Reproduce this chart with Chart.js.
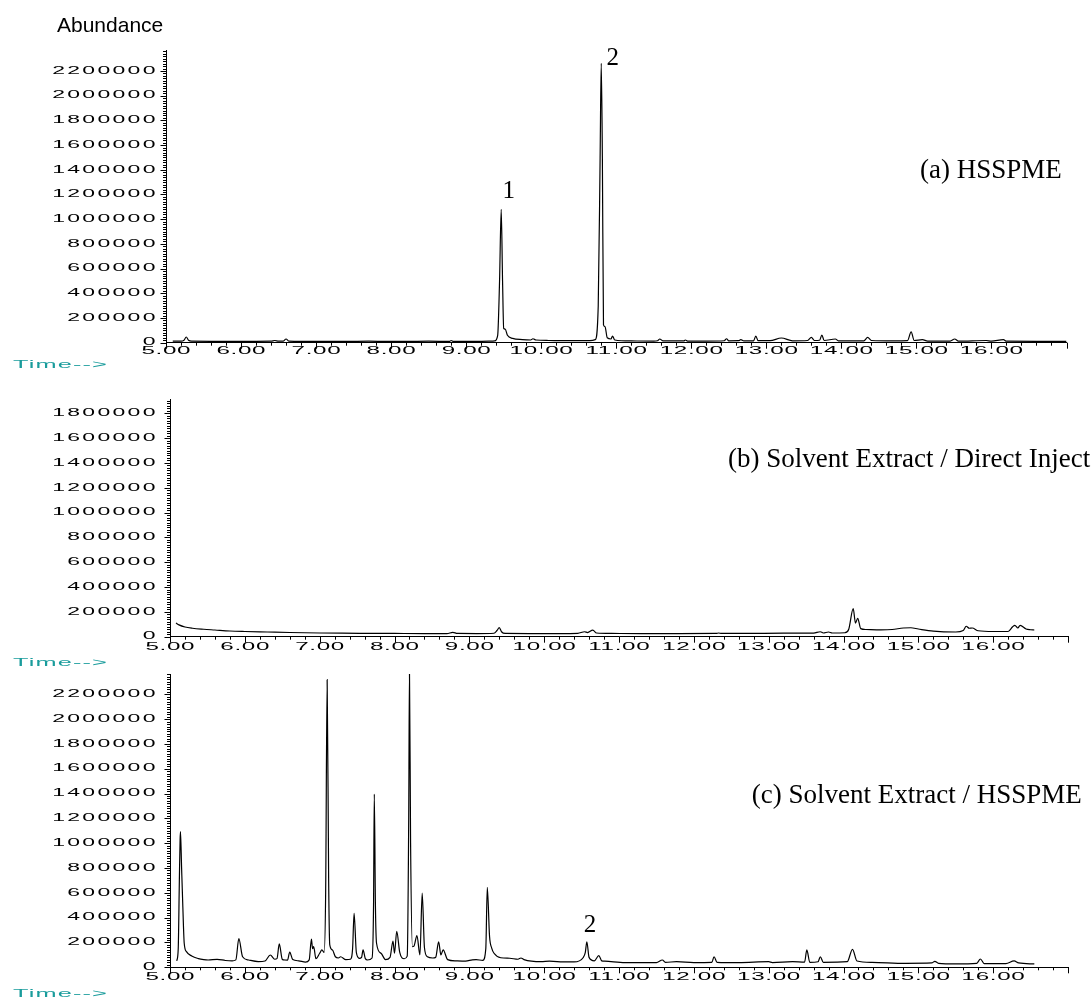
<!DOCTYPE html>
<html>
<head>
<meta charset="utf-8">
<script src="https://cdn.jsdelivr.net/npm/chart.js@4.4.0/dist/chart.umd.min.js"></script>
<style>
  body { margin: 0; background: #fff; width: 1092px; height: 1000px; position: relative; overflow: hidden; }
  canvas { position: absolute; left: 0; }
</style>
</head>
<body>
<canvas id="chartA" width="1092" height="375" style="top:0px"></canvas>
<canvas id="chartB" width="1092" height="300" style="top:375px"></canvas>
<canvas id="chartC" width="1092" height="340" style="top:660px"></canvas>
<script>
// Retention time axis, shared by the three chromatograms
const xTickValues = [5, 6, 7, 8, 9, 10, 11, 12, 13, 14, 15, 16];
const xTickLabels = ['5.00', '6.00', '7.00', '8.00', '9.00', '10.00', '11.00', '12.00', '13.00', '14.00', '15.00', '16.00'];

// Abundance ticks
const yTicksA = [0, 200000, 400000, 600000, 800000, 1000000, 1200000, 1400000, 1600000, 1800000, 2000000, 2200000];
const yTicksB = [0, 200000, 400000, 600000, 800000, 1000000, 1200000, 1400000, 1600000, 1800000];
const yTicksC = [0, 200000, 400000, 600000, 800000, 1000000, 1200000, 1400000, 1600000, 1800000, 2000000, 2200000];

// (a) HSSPME
const timeA = [5.09, 5.20, 5.24, 5.27, 5.30, 5.34, 5.60, 5.90, 6.20, 6.40, 6.45, 6.50, 6.56, 6.60, 6.64, 6.80, 7.10, 7.40, 7.70, 7.95,
  8.20, 8.50, 8.78, 8.80, 8.83, 9.10, 9.30, 9.38, 9.42, 9.445, 9.467, 9.485, 9.50, 9.52, 9.55, 9.62, 9.75, 9.86, 9.89, 9.93,
  10.10, 10.30, 10.50, 10.65, 10.72, 10.76, 10.785, 10.80, 10.815, 10.83, 10.85, 10.88, 10.93, 10.95, 10.98, 11.20, 11.50, 11.55, 11.58, 11.62,
  11.90, 11.92, 11.95, 12.20, 12.44, 12.47, 12.50, 12.63, 12.66, 12.70, 12.83, 12.86, 12.89, 13.05, 13.20, 13.35, 13.55, 13.60, 13.64, 13.71,
  13.74, 13.77, 13.92, 13.96, 14.30, 14.35, 14.40, 14.70, 14.88, 14.93, 14.97, 15.08, 15.15, 15.45, 15.51, 15.56, 15.93, 16.00, 16.16, 16.20,
  16.60, 17.00];
const abundanceA = [12000, 12000, 20000, 46000, 20000, 12000, 11000, 11000, 11000, 12000, 18000, 12000, 13000, 30000, 13000, 11000, 11000, 11000, 12000, 11000,
  11000, 12000, 11000, 18000, 11000, 11000, 12000, 14000, 60000, 500000, 1080000, 500000, 116000, 110000, 60000, 35000, 25000, 22000, 32000, 22000,
  18000, 16000, 16000, 17000, 25000, 300000, 1500000, 2262000, 1500000, 145000, 130000, 40000, 30000, 54000, 22000, 14000, 13000, 16000, 30000, 15000,
  14000, 22000, 13000, 13000, 16000, 32000, 15000, 16000, 25000, 14000, 15000, 54000, 16000, 16000, 38000, 15000, 18000, 43000, 18000, 20000,
  62000, 18000, 30000, 15000, 15000, 43000, 18000, 14000, 16000, 87000, 18000, 25000, 13000, 13000, 30000, 13000, 18000, 12000, 25000, 12000,
  11000, 11000];

// (b) Solvent Extract / Direct Inject
const timeB = [5.08, 5.12, 5.20, 5.30, 5.45, 5.60, 5.80, 6.00, 6.30, 6.60, 7.00, 7.30, 7.60, 8.00, 8.40, 8.70, 8.78, 8.84, 9.10, 9.33,
  9.37, 9.40, 9.43, 9.48, 9.80, 10.20, 10.45, 10.54, 10.58, 10.65, 10.70, 10.90, 11.30, 11.80, 12.30, 12.33, 12.37, 12.80, 13.20, 13.60,
  13.69, 13.73, 13.80, 13.85, 14.02, 14.07, 14.13, 14.16, 14.19, 14.23, 14.30, 14.50, 14.65, 14.80, 14.90, 15.00, 15.20, 15.50, 15.60, 15.64,
  15.68, 15.72, 15.80, 16.00, 16.20, 16.26, 16.29, 16.33, 16.36, 16.44, 16.50, 16.55];
const abundanceB = [110000, 95000, 78000, 68000, 60000, 54000, 46000, 42000, 38000, 34000, 30000, 28000, 27000, 26000, 25000, 25000, 35000, 26000, 25000, 28000,
  50000, 73000, 40000, 26000, 25000, 25000, 27000, 40000, 33000, 53000, 30000, 26000, 25000, 25000, 26000, 30000, 26000, 27000, 28000, 29000,
  40000, 30000, 38000, 30000, 32000, 60000, 226000, 110000, 148000, 65000, 58000, 55000, 58000, 70000, 72000, 62000, 45000, 38000, 50000, 84000,
  68000, 70000, 48000, 42000, 42000, 80000, 92000, 70000, 92000, 62000, 56000, 54000];

// (c) Solvent Extract / HSSPME
const timeC = [5.09, 5.11, 5.125, 5.135, 5.14, 5.155, 5.17, 5.19, 5.22, 5.29, 5.38, 5.45, 5.51, 5.63, 5.74, 5.83, 5.88, 5.92, 5.97, 6.05,
  6.18, 6.27, 6.34, 6.40, 6.43, 6.46, 6.50, 6.53, 6.57, 6.60, 6.64, 6.72, 6.81, 6.86, 6.89, 6.905, 6.92, 6.95, 7.00, 7.03,
  7.06, 7.08, 7.10, 7.12, 7.135, 7.17, 7.21, 7.25, 7.28, 7.35, 7.41, 7.44, 7.46, 7.49, 7.53, 7.56, 7.58, 7.61, 7.64, 7.70,
  7.72, 7.73, 7.745, 7.76, 7.82, 7.88, 7.94, 7.98, 8.00, 8.03, 8.07, 8.13, 8.17, 8.19, 8.20, 8.215, 8.24, 8.26, 8.30, 8.34,
  8.37, 8.40, 8.44, 8.51, 8.55, 8.59, 8.62, 8.65, 8.71, 8.82, 8.95, 9.04, 9.09, 9.18, 9.22, 9.24, 9.27, 9.30, 9.33, 9.42,
  9.54, 9.65, 9.69, 9.73, 9.96, 10.07, 10.25, 10.40, 10.52, 10.55, 10.57, 10.60, 10.67, 10.73, 10.77, 10.81, 11.08, 11.50, 11.58, 11.62,
  11.77, 12.00, 12.24, 12.27, 12.31, 12.60, 13.00, 13.05, 13.32, 13.48, 13.51, 13.55, 13.66, 13.69, 13.73, 14.05, 14.12, 14.18, 14.38, 14.83,
  15.18, 15.22, 15.27, 15.50, 15.78, 15.83, 15.88, 16.17, 16.28, 16.34, 16.55];
const abundanceC = [51000, 150000, 700000, 1030000, 1094000, 800000, 516000, 194000, 126000, 91000, 70000, 62000, 59000, 64000, 55000, 52000, 60000, 231000, 85000, 59000,
  46000, 51000, 99000, 65000, 70000, 188000, 65000, 59000, 58000, 123000, 62000, 52000, 42000, 60000, 228000, 150000, 166000, 69000, 113000, 140000,
  120000, 600000, 2317000, 700000, 180000, 140000, 85000, 75000, 85000, 62000, 65000, 150000, 435000, 120000, 72000, 80000, 140000, 70000, 59000, 75000,
  500000, 1395000, 500000, 194000, 113000, 62000, 80000, 212000, 113000, 290000, 120000, 69000, 90000, 1200000, 2390000, 1000000, 166000, 170000, 255000, 99000,
  597000, 160000, 85000, 75000, 80000, 206000, 100000, 140000, 62000, 52000, 50000, 60000, 62000, 56000, 150000, 645000, 250000, 153000, 113000, 77000,
  73000, 65000, 75000, 62000, 45000, 49000, 44000, 43000, 77000, 120000, 206000, 80000, 52000, 94000, 52000, 49000, 37000, 38000, 59000, 40000,
  45000, 38000, 40000, 85000, 40000, 37000, 45000, 38000, 45000, 42000, 140000, 40000, 45000, 85000, 40000, 45000, 145000, 51000, 40000, 32000,
  35000, 48000, 32000, 27000, 32000, 67000, 30000, 30000, 51000, 35000, 27000];

// stretched ChemStation-style text
function wideText(ctx, text, x, y, align, size, scaleX, spacing, color) {
  ctx.save();
  ctx.font = size + 'px "Liberation Sans", Arial, sans-serif';
  ctx.letterSpacing = spacing + 'px';
  const w = (ctx.measureText(text).width - spacing) * scaleX;
  let left = x;
  if (align === 'right') left = x - w;
  else if (align === 'center') left = x - w / 2;
  ctx.translate(left, y);
  ctx.scale(scaleX, 1);
  ctx.fillStyle = color || '#000';
  ctx.textAlign = 'left';
  ctx.textBaseline = 'middle';
  ctx.fillText(text, 0, 0);
  ctx.restore();
}

const chromPlugin = {
  id: 'chrom',
  afterDraw(chart, args, opts) {
    const ctx = chart.ctx;
    const xs = chart.scales.x, ys = chart.scales.y;
    const area = chart.chartArea;
    ctx.save();
    ctx.strokeStyle = '#000';
    ctx.lineWidth = 1;
    ctx.beginPath();
    // minor ticks every 20000, long ones on the labelled values
    for (let v = 0; v <= ys.max; v += 20000) {
      const py = Math.round(ys.getPixelForValue(v)) + 0.5;
      const len = v % 200000 === 0 ? 5.5 : 3;
      ctx.moveTo(area.left, py);
      ctx.lineTo(area.left - len, py);
    }
    // time ticks every 0.2 min
    for (let i = 0; i <= 60; i++) {
      const px = Math.round(xs.getPixelForValue(5 + i * 0.2)) + 0.5;
      const len = i % 5 === 0 ? 6 : 3;
      ctx.moveTo(px, area.bottom);
      ctx.lineTo(px, area.bottom + len);
    }
    ctx.stroke();
    ctx.restore();

    opts.yTicks.forEach(v => {
      wideText(ctx, String(v), opts.yLabelRight, ys.getPixelForValue(v), 'right', 10, 2.3, 1);
    });
    xTickValues.forEach((v, i) => {
      wideText(ctx, xTickLabels[i], xs.getPixelForValue(v), area.bottom + opts.xLabelOffset, 'center', 11, 2.2, 0.3);
    });
    wideText(ctx, 'Time-->', 13, area.bottom + opts.timeOffset, 'left', 11, 2.3, 0.5, '#1a9c9c');

    if (opts.title) {
      ctx.save();
      ctx.font = '21px "Liberation Sans", Arial, sans-serif';
      ctx.fillStyle = '#000';
      ctx.textBaseline = 'alphabetic';
      ctx.fillText(opts.title, 57, 32);
      ctx.restore();
    }

    ctx.save();
    ctx.fillStyle = '#000';
    ctx.textBaseline = 'alphabetic';
    opts.notes.forEach(n => {
      ctx.font = n.size + 'px "Liberation Serif", "Times New Roman", serif';
      ctx.textAlign = n.align;
      ctx.fillText(n.text, xs.getPixelForValue(n.t), ys.getPixelForValue(n.v));
    });
    ctx.restore();
  }
};

function makeChart(id, times, values, yMax, padding, extra) {
  const points = times.map((t, i) => ({ x: t, y: values[i] }));
  return new Chart(document.getElementById(id), {
    type: 'line',
    data: {
      datasets: [{
        data: points,
        borderColor: '#000',
        borderWidth: 1.2,
        pointRadius: 0,
        cubicInterpolationMode: 'monotone',
        fill: false
      }]
    },
    options: {
      responsive: false,
      animation: false,
      layout: { padding: padding },
      plugins: {
        legend: { display: false },
        tooltip: { enabled: false },
        chrom: extra
      },
      scales: {
        x: {
          type: 'linear', min: 5, max: 17,
          grid: { display: false, drawTicks: false },
          ticks: { display: false },
          border: { display: true, color: '#000', width: 1 }
        },
        y: {
          type: 'linear', min: 0, max: yMax,
          grid: { display: false, drawTicks: false },
          ticks: { display: false },
          border: { display: true, color: '#000', width: 1 }
        }
      }
    },
    plugins: [chromPlugin]
  });
}

makeChart('chartA', timeA, abundanceA, 2370000,
  { top: 50, bottom: 32.3, left: 166, right: 25.5 },
  {
    yTicks: yTicksA, yLabelRight: 155.5, xLabelOffset: 8.5, timeOffset: 22, title: 'Abundance',
    notes: [
      { text: '1', t: 9.567, v: 1172000, size: 25, align: 'center' },
      { text: '2', t: 10.953, v: 2249000, size: 25, align: 'center' },
      { text: '(a) HSSPME', t: 15.047, v: 1334000, size: 27, align: 'left' }
    ]
  });

makeChart('chartB', timeB, abundanceB, 1911000,
  { top: 24.5, bottom: 38.3, left: 170, right: 24 },
  {
    yTicks: yTicksB, yLabelRight: 155.5, xLabelOffset: 10, timeOffset: 26.6,
    notes: [
      { text: '(b) Solvent Extract / Direct Inject', t: 12.457, v: 1370000, size: 27, align: 'left' }
    ]
  });

makeChart('chartC', timeC, abundanceC, 2363000,
  { top: 14, bottom: 32.7, left: 170, right: 24 },
  {
    yTicks: yTicksC, yLabelRight: 155.5, xLabelOffset: 10, timeOffset: 26.4,
    notes: [
      { text: '2', t: 10.613, v: 287000, size: 25, align: 'center' },
      { text: '(c) Solvent Extract / HSSPME', t: 12.774, v: 1326000, size: 27, align: 'left' }
    ]
  });
</script>
</body>
</html>
